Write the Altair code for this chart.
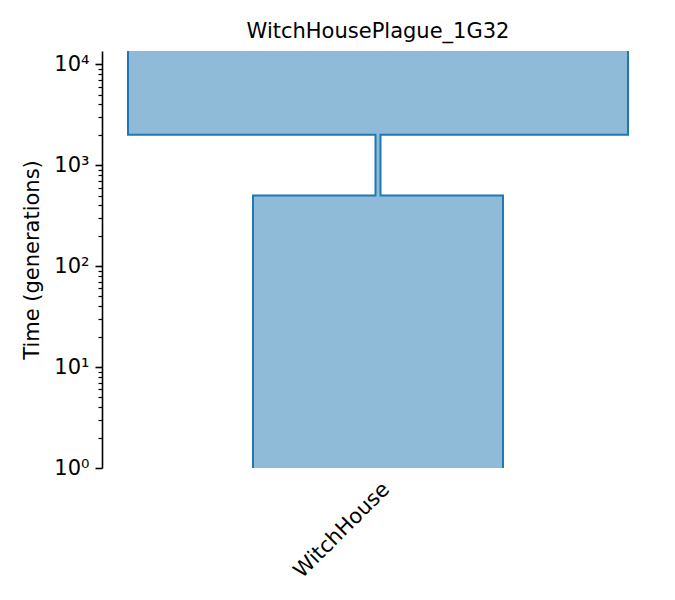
import altair as alt
import pandas as pd

DEME = ["WitchHouse"]
TITLE = "WitchHousePlague_1G32"
# epochs of the deme, most recent first (times in generations ago)
EPOCH_END = [0, 500, 2000]
EPOCH_START = [500, 2000, float("inf")]
EPOCH_SIZE = [5000, 100, 10000]
Y_MIN = 1
Y_MAX = 13500
MAJOR = [1, 10, 100, 1000, 10000]
SUPERS = ["⁰", "¹", "²", "³", "⁴"]
MINOR = [m * 10 ** k for k in range(0, 4) for m in range(2, 10)]

BIG = 1e6
FONT = "DejaVu Sans"
BLUE = "#1f77b4"
FS = 21

rects = pd.DataFrame({
    "x0": [-s / 2 for s in EPOCH_SIZE],
    "x1": [s / 2 for s in EPOCH_SIZE],
    "t0": [max(e, Y_MIN) for e in EPOCH_END],
    "t1": [min(s, BIG) for s in EPOCH_START],
})

pts = []
i = 0
for side, sign in (("left", -1), ("right", 1)):
    for e, s, n in zip(EPOCH_END, EPOCH_START, EPOCH_SIZE):
        for t in (max(e, Y_MIN), min(s, BIG)):
            pts.append({"side": side, "i": i, "x": sign * n / 2, "t": t})
            i += 1
outline_df = pd.DataFrame(pts)

xscale = alt.Scale(domain=[-5520, 5520], nice=False, zero=False)
yscale = alt.Scale(type="log", domain=[Y_MIN, Y_MAX], nice=False)

sup_list = "[" + ",".join(f"'{s}'" for s in SUPERS) + "]"
major_axis = alt.Axis(
    values=MAJOR,
    labelExpr=f"'10' + {sup_list}[round(log(datum.value)/LN10)]",
    title="Time (generations)",
    titleFont=FONT, titleFontSize=FS, titleFontWeight="normal", titleColor="black",
    titlePadding=11,
    labelFont=FONT, labelFontSize=FS, labelColor="black", labelPadding=6,
    labelBaseline="middle",
    tickSize=7, tickWidth=1.6, tickColor="black",
    domainColor="black", domainWidth=1.6,
    grid=False, orient="left",
)
minor_axis = alt.Axis(
    values=MINOR, labels=False, title=None, domain=False, grid=False,
    tickSize=4, tickWidth=1.2, tickColor="black", orient="left",
)
x_axis = alt.Axis(
    values=[0], labelExpr=f"'{DEME[0]}'", labelAngle=-45, labelAlign="right",
    labelBaseline="top", labelPadding=10, labelFont=FONT, labelFontSize=FS,
    labelColor="black", ticks=False, domain=False, grid=False, title=None,
    labelOverlap=False, labelBound=False, labelFlush=False,
)

fill = alt.Chart(rects).mark_rect(color=BLUE, opacity=0.5, clip=True, strokeWidth=0).encode(
    x=alt.X("x0:Q", scale=xscale, axis=x_axis),
    x2="x1:Q",
    y=alt.Y("t0:Q", scale=yscale, axis=major_axis),
    y2="t1:Q",
)

outline = alt.Chart(outline_df).mark_line(color=BLUE, strokeWidth=2, clip=True).encode(
    x=alt.X("x:Q", scale=xscale, axis=x_axis),
    y=alt.Y("t:Q", scale=yscale, axis=minor_axis),
    order="i:Q",
    detail="side:N",
)

chart = alt.layer(fill, outline).resolve_axis(y="independent").properties(
    width=552, height=417,
    title=alt.TitleParams(TITLE, font=FONT, fontSize=FS, fontWeight="normal",
                          color="black", offset=9, anchor="middle"),
    padding={"left": 94, "top": 43, "right": 13, "bottom": 124},
    autosize=alt.AutoSizeParams(type="none"),
).configure_view(stroke=None)

chart.save("out.html", embed_options={"renderer": "svg", "actions": False})
